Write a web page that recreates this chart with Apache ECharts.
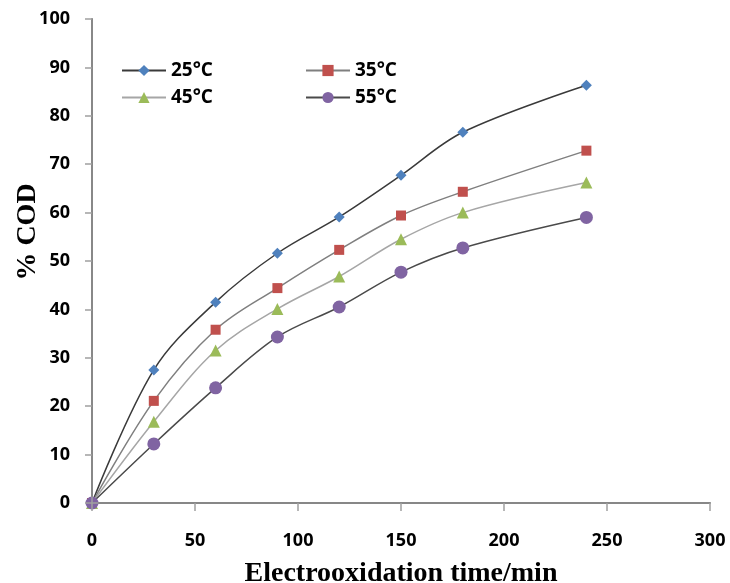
<!DOCTYPE html>
<html><head><meta charset="utf-8">
<script src="https://cdn.jsdelivr.net/npm/echarts@6/dist/echarts.min.js"></script>
<style>html,body{margin:0;padding:0;background:#fff}#c{width:730px;height:583px}</style>
</head><body><div id="c"></div>
<script>
const times = [0, 30, 60, 90, 120, 150, 180, 240];
const seriesNames = ['25°C', '35°C', '45°C', '55°C'];
const cod25 = [0, 27.5, 41.5, 51.6, 59.1, 67.7, 76.6, 86.3];
const cod35 = [0, 21.1, 35.8, 44.4, 52.3, 59.4, 64.3, 72.8];
const cod45 = [0, 16.8, 31.5, 40.1, 46.8, 54.5, 60.0, 66.2];
const cod55 = [0, 12.2, 23.8, 34.3, 40.5, 47.7, 52.7, 59.0];
const xTicks = [0, 50, 100, 150, 200, 250, 300];
const yTicks = [0, 10, 20, 30, 40, 50, 60, 70, 80, 90, 100];

const values = [cod25, cod35, cod45, cod55];
const markerColors = ['#4F81BD', '#C0504D', '#9BBB59', '#8064A2'];
const lineColors = ['#3a3a3a', '#7f7f7f', '#a6a6a6', '#4a4a4a'];
const symbols = ['diamond', 'rect', 'triangle', 'circle'];
const symbolSizes = [11, 10, 12, 13];

const chart = echarts.init(document.getElementById('c'));
const labelFont = {fontFamily: 'Open Sans, Liberation Sans, sans-serif', fontWeight: 'bold', fontSize: 18, color: '#000'};

const series = values.map((v, i) => ({
  name: seriesNames[i],
  type: 'line',
  xAxisIndex: 0, yAxisIndex: 0,
  data: times.map((t, j) => [t, v[j]]),
  smooth: 0.35,
  symbol: symbols[i],
  symbolSize: symbolSizes[i],
  showAllSymbol: true,
  lineStyle: {color: lineColors[i], width: 1.5},
  itemStyle: {color: markerColors[i]},
  z: 3 + i
}));

const legendPos = [[116, 56], [300, 56], [116, 83], [300, 83]];
const legends = seriesNames.map((n, i) => ({
  data: [n],
  left: legendPos[i][0], top: legendPos[i][1],
  itemWidth: 44, itemHeight: 14,
  itemGap: 0,
  textStyle: {fontFamily: 'Open Sans, Liberation Sans, sans-serif', fontWeight: 'bold', fontSize: 19, color: '#000'},
  selectedMode: false
}));

chart.setOption({
  animation: false,
  grid: {left: 92, right: 20, top: 19, bottom: 80, containLabel: false, outerBoundsMode: 'none'},
  legend: legends,
  xAxis: [{
    type: 'value', min: 0, max: 300, interval: 50,
    axisLine: {show: true, lineStyle: {color: '#a0a0a0', width: 1.5}},
    axisTick: {show: true, length: 8, lineStyle: {color: '#a0a0a0', width: 1.5}},
    axisLabel: Object.assign({margin: 29, formatter: v => xTicks.includes(v) ? String(v) : ''}, labelFont),
    splitLine: {show: false},
    name: 'Electrooxidation time/min', nameLocation: 'middle', nameGap: 57, nameMoveOverlap: false,
    nameTextStyle: {fontFamily: 'Liberation Serif, Times New Roman, serif', fontWeight: 'bold', fontSize: 28, color: '#000'},
    z: 10
  }, {
    type: 'value', min: 0, max: 300, position: 'top',
    axisLine: {show: true, lineStyle: {color: '#000', width: 1.5}},
    axisTick: {show: false}, axisLabel: {show: false}, splitLine: {show: false}
  }],
  yAxis: [{
    type: 'value', min: 0, max: 100, interval: 10,
    axisLine: {show: true, lineStyle: {color: '#a0a0a0', width: 1.5}},
    axisTick: {show: true, length: 7, lineStyle: {color: '#a0a0a0', width: 1.5}},
    axisLabel: Object.assign({margin: 22, formatter: v => yTicks.includes(v) ? String(v) : ''}, labelFont),
    splitLine: {show: false},
    name: '% COD', nameLocation: 'middle', nameGap: 50, nameRotate: 90, nameMoveOverlap: false,
    nameTextStyle: {fontFamily: 'Liberation Serif, Times New Roman, serif', fontWeight: 'bold', fontSize: 28, color: '#000', padding: [0, 0, 0, 58]},
    z: 10
  }, {
    type: 'value', min: 0, max: 100, position: 'right',
    axisLine: {show: true, lineStyle: {color: '#000', width: 1.5}},
    axisTick: {show: false}, axisLabel: {show: false}, splitLine: {show: false}
  }],
  series: series
});
</script>
</body></html>
